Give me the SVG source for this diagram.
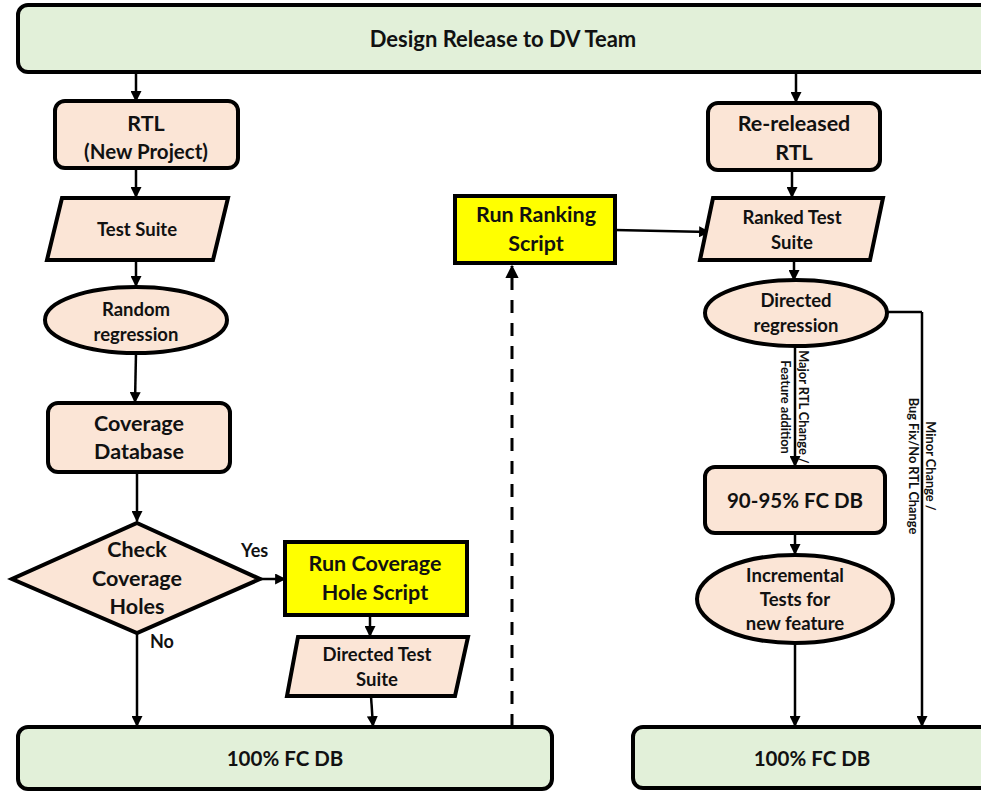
<svg xmlns="http://www.w3.org/2000/svg" width="981" height="792" viewBox="0 0 981 792">
  <style>
    .box { fill: #fbe5d6; stroke: #000; stroke-width: 4; }
    .green { fill: #e2f0d9; stroke: #000; stroke-width: 4; }
    .yellow { fill: #ffff00; stroke: #000; stroke-width: 4; }
    .lbl { font-family: Lato, "Liberation Sans", sans-serif; font-weight: bold; fill: #111; text-anchor: middle; }
    .big { font-size: 21.5px; }
    .num { font-size: 20.5px; }
    .mid { font-size: 18.5px; }
    .tiny { font-size: 12.8px; }
    .yn { font-size: 18px; text-anchor: start; }
    .conn { fill: none; stroke: #000; stroke-width: 2.5; marker-end: url(#arrow); }
    .plain { fill: none; stroke: #000; stroke-width: 2.5; }
    .dash { fill: none; stroke: #000; stroke-width: 3; stroke-dasharray: 13 10; marker-end: url(#arrow); }
  </style>
  <defs>
    <marker id="arrow" viewBox="0 0 10 10" refX="9" refY="5" markerWidth="4.4" markerHeight="4.4" orient="auto" markerUnits="strokeWidth">
      <path d="M0,0 L10,5 L0,10 z" fill="#000"/>
    </marker>
  </defs>
  <rect width="981" height="792" fill="#fff"/>

  <!-- connectors -->
  <g id="connectors">
    <path class="conn" d="M136,72 V101"/>
    <path class="conn" d="M796,72 V102"/>
    <path class="conn" d="M136,168 V197"/>
    <path class="conn" d="M136,260 V286"/>
    <path class="conn" d="M136,353 L135,402"/>
    <path class="conn" d="M137,472 V521"/>
    <path class="conn" d="M260,579 H285"/>
    <path class="conn" d="M137,633 V726"/>
    <path class="conn" d="M370,615 V636"/>
    <path class="conn" d="M371,696 L373,726"/>
    <path class="dash" d="M512,727 V266"/>
    <path class="conn" d="M615,230 L709,232"/>
    <path class="conn" d="M792,170 V197"/>
    <path class="conn" d="M794,260 V280"/>
    <path class="conn" d="M795,347 V466"/>
    <path class="plain" d="M887,312 H922"/>
    <path class="conn" d="M922,312 V726"/>
    <path class="conn" d="M795,533 V554"/>
    <path class="conn" d="M795,643 V726"/>
  </g>

  <!-- connector labels -->
  <g id="connector-labels">
    <text class="lbl yn" x="241" y="557">Yes</text>
    <text class="lbl yn" x="150" y="648">No</text>
    <text class="lbl tiny" transform="translate(795,407) rotate(90)"><tspan x="0" y="-3.5">Major RTL Change /</tspan><tspan x="0" y="14">Feature addition</tspan></text>
    <text class="lbl tiny" transform="translate(922,466) rotate(90)"><tspan x="0" y="-3.5">Minor Change /</tspan><tspan x="0" y="13">Bug Fix/No RTL Change</tspan></text>
  </g>

  <g id="design-release">
    <rect class="green" x="18" y="5" width="980" height="67" rx="10"/>
    <text class="lbl big" x="503" y="47" style="font-size:22px">Design Release to DV Team</text>
  </g>

  <g id="rtl-new">
    <rect class="box" x="55" y="101" width="183" height="67" rx="10"/>
    <text class="lbl big" x="146" y="131">RTL</text>
    <text class="lbl num" x="146" y="159">(New Project)</text>
  </g>

  <g id="test-suite">
    <polygon class="box" points="62,198 228,198 213,260 47,260"/>
    <text class="lbl mid" x="137" y="236">Test Suite</text>
  </g>

  <g id="random-regression">
    <ellipse class="box" cx="136" cy="320" rx="91" ry="33"/>
    <text class="lbl mid" x="136" y="316">Random</text>
    <text class="lbl mid" x="136" y="341">regression</text>
  </g>

  <g id="coverage-database">
    <rect class="box" x="48" y="403" width="182" height="69" rx="10"/>
    <text class="lbl big" x="139" y="431">Coverage</text>
    <text class="lbl big" x="139" y="459">Database</text>
  </g>

  <g id="check-holes">
    <polygon class="box" points="137,523 260,579 137,633 12,579"/>
    <text class="lbl big" x="137" y="557">Check</text>
    <text class="lbl big" x="137" y="586">Coverage</text>
    <text class="lbl big" x="137" y="614">Holes</text>
  </g>

  <g id="run-coverage-hole">
    <rect class="yellow" x="285" y="542" width="182" height="73"/>
    <text class="lbl big" x="375" y="571">Run Coverage</text>
    <text class="lbl big" x="375" y="600">Hole Script</text>
  </g>

  <g id="directed-test-suite">
    <polygon class="box" points="298,637 468,637 455,696 287,696"/>
    <text class="lbl mid" x="377" y="661">Directed Test</text>
    <text class="lbl mid" x="377" y="686">Suite</text>
  </g>

  <g id="fc-db-left">
    <rect class="green" x="18" y="727" width="534" height="62" rx="10"/>
    <text class="lbl num" x="285" y="766">100% FC DB</text>
  </g>

  <g id="run-ranking">
    <rect class="yellow" x="455" y="196" width="160" height="67"/>
    <text class="lbl big" x="536" y="222">Run Ranking</text>
    <text class="lbl big" x="536" y="251">Script</text>
  </g>

  <g id="rtl-rereleased">
    <rect class="box" x="708" y="103" width="172" height="67" rx="10"/>
    <text class="lbl big" x="794" y="131">Re-released</text>
    <text class="lbl big" x="794" y="160">RTL</text>
  </g>

  <g id="ranked-test-suite">
    <polygon class="box" points="713,198 883,198 870,260 700,260"/>
    <text class="lbl mid" x="792" y="224">Ranked Test</text>
    <text class="lbl mid" x="792" y="249">Suite</text>
  </g>

  <g id="directed-regression">
    <ellipse class="box" cx="796" cy="313" rx="91" ry="33"/>
    <text class="lbl mid" x="796" y="307">Directed</text>
    <text class="lbl mid" x="796" y="332">regression</text>
  </g>

  <g id="fc-db-90">
    <rect class="box" x="705" y="467" width="180" height="66" rx="10"/>
    <text class="lbl num" x="795" y="508">90-95% FC DB</text>
  </g>

  <g id="incremental-tests">
    <ellipse class="box" cx="795" cy="599" rx="98" ry="44"/>
    <text class="lbl mid" x="795" y="582">Incremental</text>
    <text class="lbl mid" x="795" y="606">Tests for</text>
    <text class="lbl mid" x="795" y="630">new feature</text>
  </g>

  <g id="fc-db-right">
    <rect class="green" x="633" y="727" width="370" height="61" rx="10"/>
    <text class="lbl num" x="812" y="766">100% FC DB</text>
  </g>
</svg>
